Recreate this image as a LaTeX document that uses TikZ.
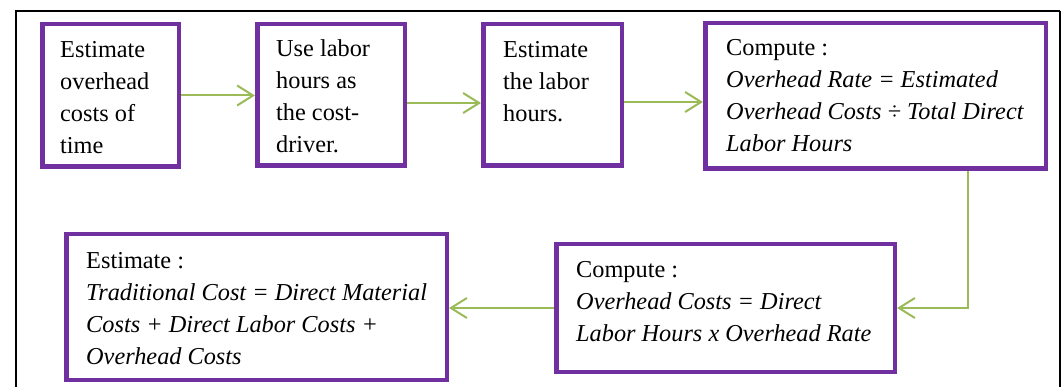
\documentclass[tikz,border=0pt]{standalone}
\usepackage{fontspec}
\setmainfont{Liberation Serif}
\usetikzlibrary{arrows.meta}
\definecolor{boxpurple}{HTML}{7030A0}
\definecolor{arrowgreen}{HTML}{9BBB59}
\tikzset{
  stepbox/.style={draw=boxpurple, line width=4.5pt, fill=white, inner sep=0pt},
  boxtext/.style={anchor=north west, inner sep=0pt, align=left,
    font=\fontsize{24.3pt}{32pt}\selectfont},
  flow/.style={draw=arrowgreen, line width=2pt,
    -{Straight Barb[length=16pt, width=20pt, line width=2pt]}},
  frame/.style={draw=black, line width=2pt}
}
\begin{document}
\begin{tikzpicture}[x=1pt, y=-1pt]
\useasboundingbox (0,0) rectangle (1062,387);
\fill[white] (0,0) rectangle (1062,387);
% outer frame (open at bottom)
\coordinate (fbl) at (16,387);
\coordinate (ftl) at (16,11);
\coordinate (ftr) at (1060,11);
\coordinate (fbr) at (1060,387);
\draw[frame] (fbl) -- (ftl) -- (ftr);
\draw[black, line width=1.2pt] (ftr) -- (fbr);

% boxes
\node[stepbox, minimum width=136.5pt, minimum height=142.5pt] (b1) at (110.5,95.5) {};
\node[stepbox, minimum width=147.5pt, minimum height=141.5pt] (b2) at (331,95) {};
\node[stepbox, minimum width=138.5pt, minimum height=141.5pt] (b3) at (552.5,95) {};
\node[stepbox, minimum width=340.5pt, minimum height=145.5pt] (b4) at (875.5,96) {};
\node[stepbox, minimum width=338.5pt, minimum height=127.5pt] (b5) at (725.5,308) {};
\node[stepbox, minimum width=380.5pt, minimum height=145.5pt] (b6) at (256.5,307) {};

% texts
\node[boxtext] (t1) at (60,41) {Estimate\\overhead\\costs of\\time};
\node[boxtext] (t2) at (276,39) {Use labor\\hours as\\the cost-\\driver.};
\node[boxtext] (t3) at (503,41) {Estimate\\the labor\\hours.};
\node[boxtext] (t4) at (726,39) {Compute :\\\textit{Overhead Rate = Estimated}\\\textit{Overhead Costs ÷ Total Direct}\\\textit{Labor Hours}};
\node[boxtext] (t5) at (576,261) {Compute :\\\textit{Overhead Costs = Direct}\\\textit{Labor Hours x Overhead Rate}};
\node[boxtext] (t6) at (86,252) {Estimate :\\\textit{Traditional Cost = Direct Material}\\\textit{Costs + Direct Labor Costs +}\\\textit{Overhead Costs}};

% connectors
\draw[flow] (b1.east) -- (b1.east -| b2.west);
\draw[flow] ([yshift=-8pt]b2.east) -- ([yshift=-8pt]b2.east -| b3.west);
\draw[flow] ([yshift=-7pt]b3.east) -- ([yshift=-7pt]b3.east -| b4.west);
\draw[flow] ([xshift=92.5pt]b4.south) |- (b5.east);
\draw[flow] (b5.west) -- (b5.west -| b6.east);
\end{tikzpicture}
\end{document}
